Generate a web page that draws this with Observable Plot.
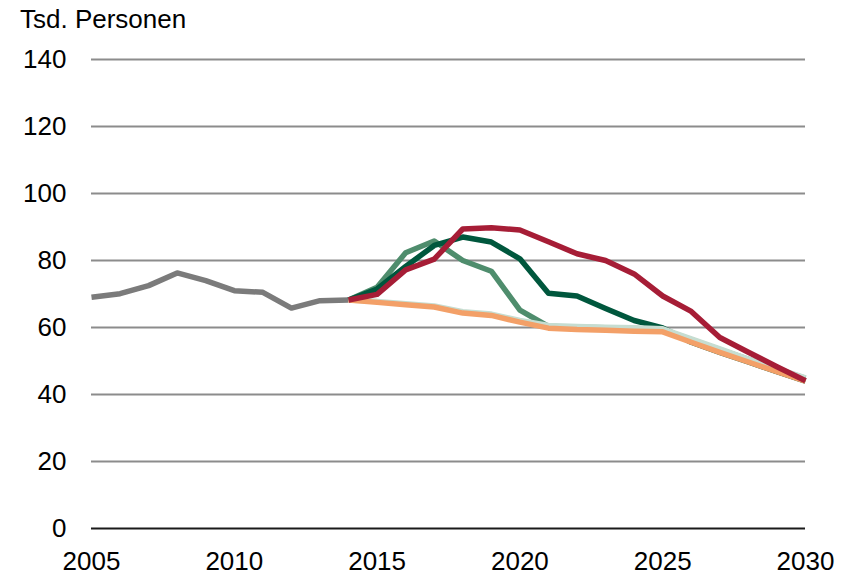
<!DOCTYPE html>
<html>
<head>
<meta charset="utf-8">
<script src="https://cdn.jsdelivr.net/npm/d3@7"></script>
<script src="https://cdn.jsdelivr.net/npm/@observablehq/plot@0.6"></script>
<style>
  body { margin: 0; background: #fff; }
  #wrap { position: relative; width: 849px; height: 575px; font-family: "Liberation Sans", Arial, sans-serif; }
  #title { position: absolute; left: 20px; top: 6px; font-size: 26px; line-height: 26px; color: #000; }
</style>
</head>
<body>
<div id="wrap"><div id="title">Tsd. Personen</div></div>
<script>
const histYears = [2005, 2006, 2007, 2008, 2009, 2010, 2011, 2012, 2013, 2014];
const histValues = [69.0, 70.1, 72.5, 76.3, 74.0, 71.0, 70.5, 65.8, 68.0, 68.2];

const projYears = [2014, 2015, 2016, 2017, 2018, 2019, 2020, 2021, 2022, 2023, 2024, 2025, 2026, 2027, 2028, 2029, 2030];
const lightGreen = [68.2, 72.0, 82.3, 85.8, 80.0, 76.8, 65.2, 60.3, 60.1, 59.9, 59.7, 59.4, 56.4, 53.4, 50.5, 47.6, 44.8];
const darkGreen  = [68.2, 71.5, 78.2, 84.5, 87.0, 85.5, 80.5, 70.2, 69.4, 65.7, 62.1, 59.9, 55.6, 52.6, 49.7, 46.8, 44.0];
const pale       = [68.2, 67.8, 67.1, 66.4, 64.7, 64.0, 62.1, 60.6, 60.3, 60.1, 59.9, 59.6, 56.6, 53.6, 50.6, 47.7, 45.0];
const orange     = [68.2, 67.5, 66.8, 66.1, 64.3, 63.6, 61.6, 59.8, 59.4, 59.2, 58.9, 58.7, 55.6, 52.6, 49.7, 46.8, 44.0];
const red        = [68.2, 69.9, 77.2, 80.4, 89.4, 89.8, 89.1, 85.6, 82.0, 80.0, 76.0, 69.4, 64.8, 57.0, 52.6, 48.3, 44.1];

const xTicks = [2005, 2010, 2015, 2020, 2025, 2030];
const yTicks = [0, 20, 40, 60, 80, 100, 120, 140];

const hist = histYears.map((year, i) => ({year, value: histValues[i]}));
const proj = (arr) => projYears.map((year, i) => ({year, value: arr[i]}));

const sw = 5.5;
const lineOpts = (stroke) => ({x: "year", y: "value", stroke, strokeWidth: sw, strokeLinejoin: "round", strokeLinecap: "butt"});

const chart = Plot.plot({
  width: 849,
  height: 575,
  marginLeft: 91,
  marginRight: 44,
  marginTop: 59,
  marginBottom: 47,
  style: {fontFamily: "'Liberation Sans', Arial, sans-serif", fontSize: "26px", color: "#000", background: "#fff"},
  x: {domain: [2005, 2030], ticks: xTicks, tickFormat: "d", tickSize: 0, tickPadding: 23, label: null},
  y: {domain: [0, 140], ticks: yTicks, tickSize: 0, tickPadding: 25, label: null},
  marks: [
    Plot.ruleY(yTicks.filter(d => d > 0), {stroke: "#8c8c8c", strokeWidth: 2}),
    Plot.ruleY([0], {stroke: "#1a1a1a", strokeWidth: 2}),
    Plot.lineY(hist, lineOpts("#7b7b7b")),
    Plot.lineY(proj(lightGreen), lineOpts("#4f8d6d")),
    Plot.lineY(proj(darkGreen), lineOpts("#00573d")),
    Plot.lineY(proj(pale), lineOpts("#c6ddd1")),
    Plot.lineY(proj(orange), lineOpts("#f3a068")),
    Plot.lineY(proj(red), lineOpts("#a61d36"))
  ]
});
document.getElementById("wrap").appendChild(chart);
</script>
</body>
</html>
